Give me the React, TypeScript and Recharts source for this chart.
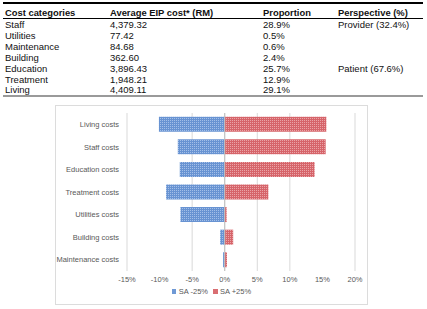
import { BarChart, Bar, XAxis, YAxis, CartesianGrid, ReferenceLine, Legend } from 'recharts';

// table data
const costCategories = ['Staff', 'Utilities', 'Maintenance', 'Building', 'Education', 'Treatment', 'Living'];
const avgCost = ['4,379.32', '77.42', '84.68', '362.60', '3,896.43', '1,948.21', '4,409.11'];
const proportion = ['28.9%', '0.5%', '0.6%', '2.4%', '25.7%', '12.9%', '29.1%'];
const perspective = ['Provider (32.4%)', '', '', '', 'Patient (67.6%)', '', ''];
const tableHeaders = ['Cost categories', 'Average EIP cost* (RM)', 'Proportion', 'Perspective (%)'];

// tornado chart data
const categories = [
  'Living costs',
  'Staff costs',
  'Education costs',
  'Treatment costs',
  'Utilities costs',
  'Building costs',
  'Maintenance costs',
];
const saMinus = [-10.1, -7.2, -6.9, -9.0, -6.8, -0.7, -0.25];
const saPlus = [15.6, 15.5, 13.8, 6.7, 0.3, 1.3, 0.35];
const xTicks = [-15, -10, -5, 0, 5, 10, 15, 20];
const seriesNames = ['SA -25%', 'SA +25%'];

const data = categories.map((c, i) => ({ name: c, minus: saMinus[i], plus: saPlus[i] }));

const FONT = '"Liberation Sans", Arial, sans-serif';
const colX = [5, 110, 263, 338];
const cols = [costCategories, avgCost, proportion, perspective];

function Table() {
  return (
    <div style={{ position: 'absolute', left: 0, top: 0, width: 427, height: 100, fontFamily: FONT, fontSize: 9.5, color: '#111' }}>
      <div style={{ position: 'absolute', left: 3, top: 2, width: 420, height: 1.5, background: '#000' }} />
      <div style={{ position: 'absolute', left: 3, top: 18, width: 420, height: 1, background: '#000' }} />
      <div style={{ position: 'absolute', left: 3, top: 94.5, width: 420, height: 2, background: '#9a9a9a' }} />
      {tableHeaders.map((h, j) => (
        <div key={h} style={{ position: 'absolute', left: colX[j], top: 7, lineHeight: '12px', fontWeight: 'bold', fontSize: 9.4, whiteSpace: 'nowrap' }}>{h}</div>
      ))}
      {costCategories.map((_, i) =>
        cols.map((col, j) => (
          <div key={i + '-' + j} style={{ position: 'absolute', left: colX[j], top: 19 + i * 10.9, lineHeight: '11px', whiteSpace: 'nowrap' }}>{col[i]}</div>
        ))
      )}
    </div>
  );
}

function LegendContent() {
  const fills = ['#6f99d5', '#d96e72'];
  return (
    <div style={{ display: 'flex', justifyContent: 'center', alignItems: 'center', fontSize: 7.5, color: '#595959', fontFamily: FONT }}>
      {seriesNames.map((n, i) => (
        <span key={n} style={{ display: 'flex', alignItems: 'center', marginRight: i === 0 ? 5 : 0 }}>
          <span style={{ display: 'inline-block', width: 4.5, height: 4.5, background: fills[i], marginRight: 2.5 }} />
          {n}
        </span>
      ))}
    </div>
  );
}

function CategoryTick(props: any) {
  const { x, y, payload } = props;
  return (
    <text x={x} y={y} dy={2.7} textAnchor="end" fontSize={7.5} fill="#595959" fontFamily={FONT}>
      {payload.value}
    </text>
  );
}

export default function App() {
  const tickStyle = { fontSize: 7.5, fill: '#595959', fontFamily: FONT };
  return (
    <div style={{ position: 'fixed', left: 0, top: 0, width: 427, height: 309, background: '#fff' }}>
      <svg width={0} height={0} style={{ position: 'absolute' }}>
        <defs>
          <pattern id="bluePat" width={2} height={2} patternUnits="userSpaceOnUse">
            <rect width={2} height={2} fill="#6893d2" />
            <rect width={1} height={1} fill="#a3bfe8" />
          </pattern>
          <pattern id="redPat" width={2} height={2} patternUnits="userSpaceOnUse">
            <rect width={2} height={2} fill="#d6646a" />
            <rect width={1} height={1} fill="#eaa4a7" />
          </pattern>
        </defs>
      </svg>
      <Table />
      <div style={{ position: 'absolute', left: 55, top: 105, width: 311, height: 198, border: '1px solid #dcdcdc' }}>
        <BarChart
          width={311}
          height={198}
          data={data}
          layout="vertical"
          stackOffset="sign"
          barCategoryGap={3.8}
          margin={{ top: 7, right: 12, bottom: 0, left: 0 }}
        >
          <CartesianGrid horizontal={false} stroke="#d9d9d9" />
          <XAxis
            type="number"
            domain={[-15, 20]}
            ticks={xTicks}
            tickFormatter={(v: number) => `${v}%`}
            axisLine={false}
            tickLine={false}
            tickMargin={0}
            height={16}
            tick={tickStyle}
          />
          <YAxis
            type="category"
            dataKey="name"
            width={71}
            interval={0}
            axisLine={false}
            tickLine={false}
            tick={<CategoryTick />}
          />
          <Bar dataKey="minus" stackId="a" fill="url(#bluePat)" isAnimationActive={false} />
          <Bar dataKey="plus" stackId="a" fill="url(#redPat)" isAnimationActive={false} />
          <ReferenceLine x={0} stroke="#bfbfbf" />
          <Legend
            height={17}
            content={() => <LegendContent />}
            wrapperStyle={{ left: 0, width: 311, top: 181, bottom: 'auto' }}
          />
        </BarChart>
      </div>
    </div>
  );
}
